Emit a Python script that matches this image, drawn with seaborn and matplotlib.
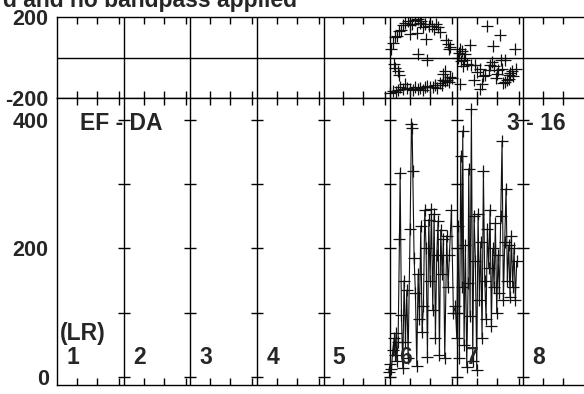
import numpy as np
import pandas as pd
import matplotlib
matplotlib.use("Agg")
import matplotlib.pyplot as plt
import seaborn as sns

# amplitude series (lower panel), x in day-units, y in amplitude
amp_x = [4.98, 5.00, 5.02, 5.04, 5.06, 5.07, 5.09, 5.10, 5.12, 5.14,
         5.15, 5.17, 5.19, 5.21, 5.23, 5.25, 5.27, 5.30, 5.32, 5.33,
         5.34, 5.36, 5.38, 5.40, 5.42, 5.44, 5.46, 5.48, 5.50, 5.52,
         5.54, 5.56, 5.58, 5.60, 5.62, 5.64, 5.66, 5.68, 5.70, 5.72,
         5.74, 5.76, 5.78, 5.80, 5.82, 5.85, 5.87, 5.89, 5.92, 5.95,
         5.98, 6.00, 6.02, 6.04, 6.06, 6.08, 6.09, 6.11, 6.13, 6.15,
         6.17, 6.18, 6.20, 6.22, 6.24, 6.26, 6.28, 6.30, 6.32, 6.34,
         6.36, 6.38, 6.40, 6.42, 6.44, 6.46, 6.48, 6.50, 6.52, 6.54,
         6.56, 6.58, 6.60, 6.62, 6.64, 6.66, 6.68, 6.70, 6.72, 6.74,
         6.76, 6.78, 6.80, 6.82, 6.84, 6.86, 6.88, 6.90]
amp_y = [8, 20, 12, 42, 60, 35, 68, 25, 55, 215,
         318, 96, 14, 150, 54, 135, 30, 230, 394, 388,
         321, 185, 130, 17, 160, 90, 235, 70, 110, 260,
         200, 31, 245, 150, 262, 105, 254, 60, 190, 243,
         34, 229, 160, 215, 29, 220, 140, 190, 260, 100,
         110, 60, 235, 30, 344, 140, 383, 50, 205, 16,
         146, 324, 95, 417, 25, 250, 180, 11, 254, 120,
         210, 60, 321, 150, 91, 230, 170, 260, 80, 200,
         140, 240, 100, 190, 130, 250, 367, 120, 210, 293,
         150, 205, 125, 220, 140, 200, 120, 180]

# phase scatter (upper panel)
phase_x = [5.02, 5.05, 5.08, 5.11, 5.14, 5.17, 5.20, 5.23, 5.27, 5.30,
           5.33, 5.37, 5.42, 5.45, 5.47, 5.50, 5.53, 5.58, 5.63, 5.66,
           5.69, 5.72, 5.75, 5.54, 5.40, 5.30, 5.42, 5.56, 5.84, 5.87,
           5.90, 5.88, 5.06, 5.08, 5.12, 5.14, 5.80, 5.83, 5.00, 5.04,
           5.09, 5.12, 5.15, 5.19, 5.23, 5.26, 5.30, 5.34, 5.38, 5.42,
           5.45, 5.49, 5.53, 5.56, 5.60, 5.64, 5.68, 5.71, 5.75, 5.78,
           5.80, 5.83, 5.86, 5.88, 5.90, 5.93,
           6.02, 6.04, 6.05, 6.08, 6.11, 6.13, 6.06, 6.09, 6.20, 6.16,
           6.22, 6.28, 6.31, 6.35, 6.38, 6.40, 6.43, 6.46, 6.48, 6.50,
           6.53, 6.55, 6.56, 6.59, 6.62, 6.65, 6.66, 6.68, 6.70, 6.72,
           6.73, 6.76, 6.78, 6.79, 6.80, 6.83, 6.85, 6.88, 6.89, 6.05,
           6.35, 6.26, 6.60]
phase_y = [40, 70, 100, 104, 130, 138, 160, 168, 178, 160,
           163, 185, 188, 170, 178, 150, 163, 158, 158, 140,
           163, 153, 128, 89, 120, 115, 15, -10, 84, 69,
           54, 40, -30, -50, -69, -84, -80, -69, -175, -165,
           -168, -160, -148, -155, -133, -150, -158, -160, -148, -155,
           -153, -160, -148, -140, -148, -145, -138, -150, -124, -135,
           -109, -115, -109, -120, -94, -100,
           0, 20, 40, 30, -10, 15, -15, -40, 64, -30,
           -35, -35, -70, -59, -133, -90, -84, 158, -60, -35,
           -20, 59, -44, -99, -60, 109, -10, -59, -128, -119,
           -10, -109, -84, -104, -75, -69, -90, 40, -59, -133,
           -158, -110, -80]

day_labels = ["1", "2", "3", "4", "5", "6", "7", "8"]
amp_ticks = [0, 100, 200, 300, 400]
amp_ticklabels = ["0", "", "200", "", "400"]
phase_ticks = [-200, 200]
phase_ticklabels = ["-200", "200"]

sns.set_theme(style="white")
plt.rcParams["font.family"] = ["Liberation Sans", "DejaVu Sans"]
plt.rcParams["font.weight"] = "bold"

TICK_FS = 15.5
LABEL_FS = 16.5

fig = plt.figure(figsize=(5.84, 3.94), dpi=100)
W, H = 584, 394
left_px, right_px = 57, 590
ax_top = fig.add_axes([left_px / W, (H - 98) / H, (right_px - left_px) / W, 81 / H])
ax_bot = fig.add_axes([left_px / W, (H - 385) / H, (right_px - left_px) / W, 287 / H])

amp_df = pd.DataFrame({"t": amp_x, "amp": amp_y})
phase_df = pd.DataFrame({"t": phase_x, "phase": phase_y})

sns.lineplot(data=amp_df, x="t", y="amp", ax=ax_bot, color="#111111",
             linewidth=0.8, marker="+", markersize=9, markeredgewidth=0.9,
             markeredgecolor="#111111", sort=False, estimator=None)
sns.scatterplot(data=phase_df, x="t", y="phase", ax=ax_top, color="#111111",
                marker="+", s=80, linewidth=0.9)

minor = []
for d in range(8):
    minor += [d + 0.3, d + 0.6, d + 0.93]

for ax in (ax_top, ax_bot):
    ax.set_xlim(0, 8)
    ax.set_xlabel("")
    ax.set_ylabel("")
    ax.set_xticks(minor)
    ax.set_xticklabels([])
    ax.tick_params(axis="x", direction="in", length=5, width=1, color="black",
                   top=True, bottom=True)
    ax.tick_params(axis="y", direction="in", length=6, width=1, color="black",
                   pad=6)
    for s in ax.spines.values():
        s.set_color("black")
        s.set_linewidth(1)
    for d in range(1, 8):
        ax.axvline(d, color="black", lw=1, zorder=1)

ax_top.set_ylim(-200, 200)
ax_top.set_yticks(phase_ticks)
ax_top.set_yticklabels(phase_ticklabels, fontweight="bold", fontsize=TICK_FS)
ax_top.axhline(0, color="black", lw=1, zorder=1)

ax_bot.set_ylim(-12.4, 434)
ax_bot.set_yticks(amp_ticks)
ax_bot.set_yticklabels(amp_ticklabels, fontweight="bold", fontsize=TICK_FS)
# small y ticks drawn on every day divider
for d in range(1, 8):
    ax_bot.plot([d] * len(amp_ticks), amp_ticks, ls="none", marker="_",
                markersize=9, markeredgewidth=1, color="black", zorder=1)

for i, lab in enumerate(day_labels):
    ax_bot.text(i + 0.14 if i else 0.15, 31, lab, fontsize=LABEL_FS, fontweight="bold",
                ha="left", va="center")
ax_bot.text(0.04, 67, "(LR)", fontsize=LABEL_FS, fontweight="bold", ha="left", va="center")
ax_bot.text(0.345, 395, "EF - DA", fontsize=LABEL_FS, fontweight="bold", ha="left", va="center")
ax_bot.text(6.76, 394, "3 - 16", fontsize=LABEL_FS, fontweight="bold", ha="left", va="center")

fig.text(297 / W, 1 - 7 / H, "d and no bandpass applied", fontsize=LABEL_FS,
         fontweight="bold", ha="right", va="baseline")

fig.savefig("out.png", dpi=100)
